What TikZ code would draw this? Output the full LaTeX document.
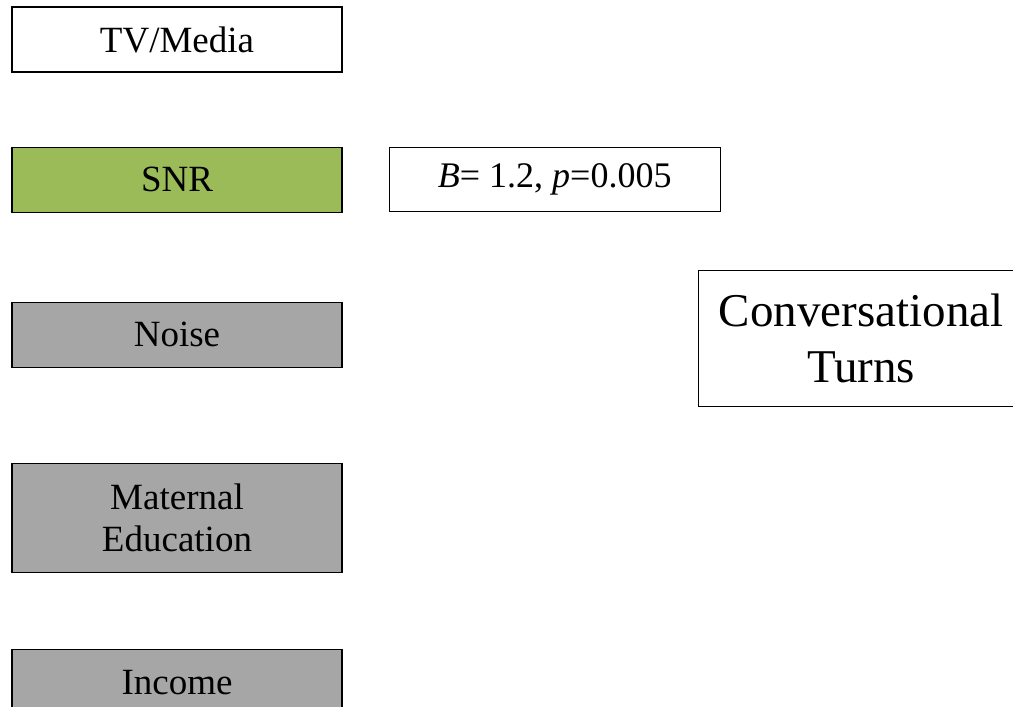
\documentclass[tikz,border=0pt]{standalone}
\usepackage{fontspec}
\setmainfont{LiberationSerif}[Extension=.ttf, UprightFont=*-Regular, ItalicFont=*-Italic, BoldFont=*-Bold, BoldItalicFont=*-BoldItalic]
\usetikzlibrary{positioning}

\definecolor{snrgreen}{HTML}{9BBB59}
\definecolor{covgray}{HTML}{A6A6A6}

\begin{document}
\begin{tikzpicture}[
    line width=1.2pt,
    node distance={74pt},
    var/.style={draw, rectangle, minimum width=330pt, minimum height=65pt, align=center, font=\fontsize{37}{42}\selectfont},
    stat/.style={draw, rectangle, minimum width=331pt, minimum height=64pt, font=\fontsize{36}{42}\selectfont},
    outcome/.style={draw, rectangle, minimum width=326pt, minimum height=136pt, align=center, font=\fontsize{47}{56}\selectfont}
]

\useasboundingbox (0,0) rectangle (1013pt,-707pt);

\node[var] (tv) at (177pt,-39.5pt) {TV/Media};
\node[var, fill=snrgreen] (snr) [below=74pt of tv] {SNR};
\node[var, fill=covgray] (noise) [below=89pt of snr] {Noise};
\node[var, fill=covgray, minimum height=109pt] (edu) [below=95pt of noise] {Maternal\\Education};
\node[var, fill=covgray, minimum height=66pt] (income) [below=76pt of edu] {Income};

\node[stat] (est) [right=46pt of snr] {\textit{B}= 1.2, \textit{p}=0.005};
\node[outcome] (turns) [right=355pt of noise, yshift=-3.5pt] {Conversational\\Turns};

\end{tikzpicture}
\end{document}
